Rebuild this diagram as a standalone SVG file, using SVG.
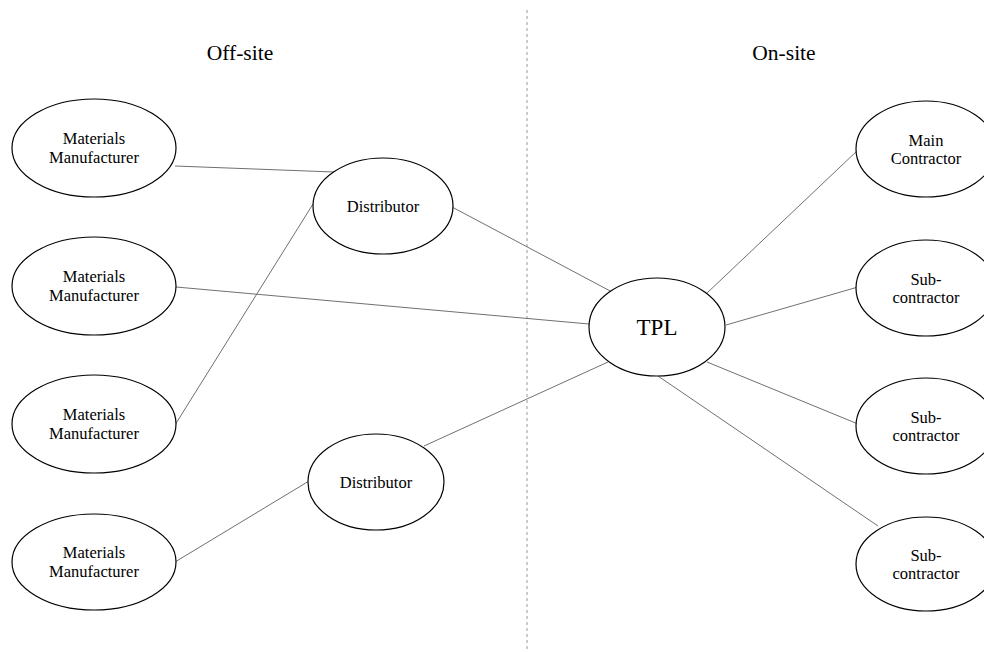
<svg xmlns="http://www.w3.org/2000/svg" width="984" height="652" viewBox="0 0 984 652">
  <style>
    .node ellipse { fill: #ffffff; stroke: #000000; stroke-width: 1.2; }
    .node text { font-family: "Liberation Serif", "DejaVu Serif", serif; font-size: 16.5px; fill: #000000; text-anchor: middle; }
    .big text { font-size: 23px; }
    .title { font-family: "Liberation Serif", "DejaVu Serif", serif; font-size: 21.5px; fill: #000000; text-anchor: middle; }
    #connectors line { stroke: #707070; stroke-width: 1; }
    .divider { stroke: #999999; stroke-width: 1; stroke-dasharray: 3 3; }
  </style>

  <rect width="984" height="652" fill="#ffffff"/>

  <!-- site divider -->
  <line class="divider" x1="527" y1="10" x2="527" y2="652"/>
  <text class="title" x="240" y="60">Off-site</text>
  <text class="title" x="784" y="60">On-site</text>

  <g id="connectors">
    <line x1="175" y1="166" x2="334" y2="172"/>
    <line x1="176" y1="287" x2="589" y2="324"/>
    <line x1="175" y1="425" x2="313" y2="204"/>
    <line x1="175" y1="562" x2="309" y2="481"/>
    <line x1="452" y1="207" x2="614" y2="293"/>
    <line x1="424" y1="446" x2="608" y2="362"/>
    <line x1="706" y1="294" x2="858" y2="150"/>
    <line x1="726" y1="325" x2="858" y2="287"/>
    <line x1="707" y1="362" x2="858" y2="424"/>
    <line x1="658" y1="376" x2="878" y2="526"/>
  </g>

  <g id="mm1" class="node">
    <ellipse cx="94" cy="148" rx="82" ry="49"/>
    <text x="94" y="144">Materials</text>
    <text x="94" y="163">Manufacturer</text>
  </g>
  <g id="mm2" class="node">
    <ellipse cx="94" cy="286" rx="82" ry="49"/>
    <text x="94" y="282">Materials</text>
    <text x="94" y="301">Manufacturer</text>
  </g>
  <g id="mm3" class="node">
    <ellipse cx="94" cy="424" rx="82" ry="49"/>
    <text x="94" y="420">Materials</text>
    <text x="94" y="439">Manufacturer</text>
  </g>
  <g id="mm4" class="node">
    <ellipse cx="94" cy="562" rx="82" ry="48"/>
    <text x="94" y="558">Materials</text>
    <text x="94" y="577">Manufacturer</text>
  </g>

  <g id="dist1" class="node">
    <ellipse cx="383" cy="206" rx="70" ry="48"/>
    <text x="383" y="212">Distributor</text>
  </g>
  <g id="dist2" class="node">
    <ellipse cx="376" cy="482" rx="68" ry="48"/>
    <text x="376" y="488">Distributor</text>
  </g>

  <g id="tpl" class="node big">
    <ellipse cx="657" cy="327" rx="68" ry="49"/>
    <text x="657" y="335">TPL</text>
  </g>

  <g id="main" class="node">
    <ellipse cx="926" cy="149" rx="70" ry="48"/>
    <text x="926" y="146">Main</text>
    <text x="926" y="164">Contractor</text>
  </g>
  <g id="sub1" class="node">
    <ellipse cx="926" cy="288" rx="70" ry="48"/>
    <text x="926" y="285">Sub-</text>
    <text x="926" y="303">contractor</text>
  </g>
  <g id="sub2" class="node">
    <ellipse cx="926" cy="426" rx="70" ry="48"/>
    <text x="926" y="423">Sub-</text>
    <text x="926" y="441">contractor</text>
  </g>
  <g id="sub3" class="node">
    <ellipse cx="926" cy="564" rx="70" ry="47"/>
    <text x="926" y="561">Sub-</text>
    <text x="926" y="579">contractor</text>
  </g>
</svg>
